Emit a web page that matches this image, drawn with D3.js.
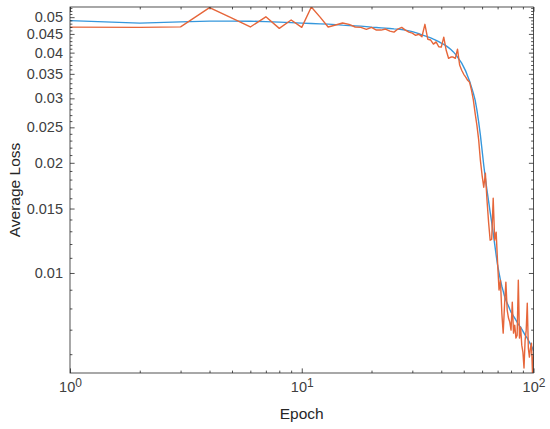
<!DOCTYPE html>
<html>
<head>
<meta charset="utf-8">
<script src="https://cdn.jsdelivr.net/npm/d3@7"></script>
<style>
  body { margin: 0; background: #fff; }
  text { font-family: "Liberation Sans", Arial, Helvetica, sans-serif; }
</style>
</head>
<body>
<div id="chart"></div>
<script>
// epoch index 1..100
var epochs = d3.range(1, 101);

// smooth curve (blue)
var fitLoss = [
  0.04891, 0.04815, 0.04854, 0.04876, 0.04876, 0.04874, 0.04861, 0.04845, 0.04830, 0.04815,
  0.04806, 0.04794, 0.04785, 0.04770, 0.04755, 0.04746, 0.04734, 0.04725, 0.04710, 0.04695,
  0.04686, 0.04675, 0.04666, 0.04657, 0.04645, 0.04637, 0.04628, 0.04607, 0.04585, 0.04564,
  0.04536, 0.04507, 0.04473, 0.04445, 0.04417, 0.04390, 0.04354, 0.04322, 0.04288, 0.04246,
  0.04211, 0.04172, 0.04127, 0.04080, 0.04025, 0.03964, 0.03888, 0.03816, 0.03745, 0.03652,
  0.03560, 0.03450, 0.03343, 0.03219, 0.03100, 0.02966, 0.02785, 0.02583, 0.02380, 0.02165,
  0.01969, 0.01815, 0.01683, 0.01571, 0.01466, 0.01377, 0.01285, 0.01199, 0.01119, 0.01050,
  0.01000, 0.00956, 0.00920, 0.00892, 0.00864, 0.00843, 0.00827, 0.00812, 0.00796, 0.00782,
  0.00772, 0.00762, 0.00753, 0.00743, 0.00734, 0.00725, 0.00717, 0.00711, 0.00702, 0.00694,
  0.00685, 0.00676, 0.00670, 0.00664, 0.00655, 0.00647, 0.00639, 0.00631, 0.00623, 0.00612
];

// noisy loss (orange)
var trainLoss = [
  0.04695, 0.04690, 0.04704, 0.05310, 0.04970, 0.04700, 0.05010, 0.04660, 0.04910, 0.04690,
  0.05330, 0.05000, 0.04700, 0.04760, 0.04820, 0.04780, 0.04700, 0.04690, 0.04630, 0.04690,
  0.04610, 0.04610, 0.04640, 0.04580, 0.04550, 0.04640, 0.04690, 0.04610, 0.04550, 0.04520,
  0.04460, 0.04490, 0.04420, 0.04780, 0.04350, 0.04330, 0.04220, 0.04280, 0.04150, 0.04140,
  0.04410, 0.04060, 0.03860, 0.03890, 0.03890, 0.03860, 0.04090, 0.03700, 0.03580, 0.03490,
  0.03430, 0.03360, 0.03320, 0.03160, 0.02970, 0.02730, 0.02530, 0.02310, 0.02030, 0.01849,
  0.01715, 0.01873, 0.01581, 0.01377, 0.01229, 0.01235, 0.01600, 0.01229, 0.01293, 0.01064,
  0.00898, 0.00956, 0.00777, 0.00685, 0.00817, 0.00944, 0.00791, 0.00753, 0.00734, 0.00698,
  0.00832, 0.00685, 0.00720, 0.00664, 0.00676, 0.00956, 0.00664, 0.00711, 0.00635, 0.00608,
  0.00550, 0.00655, 0.00698, 0.00827, 0.00623, 0.00589, 0.00623, 0.00643, 0.00533, 0.00596
];

var yMajor = [0.01, 0.015, 0.02, 0.025, 0.03, 0.035, 0.04, 0.045, 0.05];
var xMajor = [1, 10, 100];
var xMajorLabels = ["0", "1", "2"];

var margin = {top: 7, right: 16.5, bottom: 56, left: 70};
var width = 550 - margin.left - margin.right;
var height = 429 - margin.top - margin.bottom;
var axisColor = "#262626";
var majorLen = 4.6, minorLen = 2.4;

var svg = d3.select("#chart")
  .append("svg")
  .attr("width", 550)
  .attr("height", 429)
  .append("g")
  .attr("transform", "translate(" + margin.left + "," + margin.top + ")");

var x = d3.scaleLog().domain([1, 100]).range([0, width]);
var y = d3.scaleLog()
  .domain(d3.extent(trainLoss.concat(fitLoss)))
  .range([height, 0]);

// minor ticks (every 0.001 on y, 2..9 per decade on x)
var yMinor = d3.range(6, 54).map(function (k) { return k / 1000; })
  .filter(function (v) {
    return !yMajor.some(function (m) { return Math.abs(m - v) < 1e-9; });
  });
var xMinor = [2, 3, 4, 5, 6, 7, 8, 9, 20, 30, 40, 50, 60, 70, 80, 90];

svg.append("clipPath").attr("id", "clip")
  .append("rect").attr("width", width).attr("height", height);

var line = d3.line()
  .x(function (d) { return x(d[0]); })
  .y(function (d) { return y(d[1]); });

svg.append("path")
  .datum(d3.zip(epochs, fitLoss))
  .attr("clip-path", "url(#clip)")
  .attr("fill", "none")
  .attr("stroke", "#3597dc")
  .attr("stroke-width", 1.4)
  .attr("d", line);

svg.append("path")
  .datum(d3.zip(epochs, trainLoss))
  .attr("clip-path", "url(#clip)")
  .attr("fill", "none")
  .attr("stroke", "#e6663a")
  .attr("stroke-width", 1.4)
  .attr("stroke-linejoin", "round")
  .attr("d", line);

function styleAxis(g) {
  g.select(".domain").remove();
  g.attr("color", axisColor)
    .attr("font-family", '"Liberation Sans", Arial, sans-serif')
    .attr("font-size", 14.5);
  g.selectAll(".tick line").attr("stroke-width", 0.8);
  g.selectAll(".tick text").attr("fill", "#404040");
}

// y axis left, major with labels
svg.append("g")
  .call(d3.axisLeft(y).tickValues(yMajor).tickSize(-majorLen).tickPadding(7)
    .tickFormat(function (d) { return String(d); }))
  .call(styleAxis);
// y minor left/right, major right
svg.append("g")
  .call(d3.axisLeft(y).tickValues(yMinor).tickSize(-minorLen).tickFormat(""))
  .call(styleAxis);
svg.append("g")
  .attr("transform", "translate(" + width + ",0)")
  .call(d3.axisRight(y).tickValues(yMajor).tickSize(-majorLen).tickFormat(""))
  .call(styleAxis);
svg.append("g")
  .attr("transform", "translate(" + width + ",0)")
  .call(d3.axisRight(y).tickValues(yMinor).tickSize(-minorLen).tickFormat(""))
  .call(styleAxis);

// x axis bottom, major with 10^n labels
var xAxisG = svg.append("g")
  .attr("transform", "translate(0," + height + ")")
  .call(d3.axisBottom(x).tickValues(xMajor).tickSize(-majorLen).tickPadding(9)
    .tickFormat(""))
  .call(styleAxis);
xAxisG.selectAll(".tick text").each(function (d, i) {
  var t = d3.select(this);
  t.append("tspan").text("10");
  t.append("tspan").attr("dy", "-0.45em").attr("font-size", 12).text(xMajorLabels[i]);
});
svg.append("g")
  .attr("transform", "translate(0," + height + ")")
  .call(d3.axisBottom(x).tickValues(xMinor).tickSize(-minorLen).tickFormat(""))
  .call(styleAxis);
svg.append("g")
  .call(d3.axisTop(x).tickValues(xMajor).tickSize(-majorLen).tickFormat(""))
  .call(styleAxis);
svg.append("g")
  .call(d3.axisTop(x).tickValues(xMinor).tickSize(-minorLen).tickFormat(""))
  .call(styleAxis);

// box
svg.append("rect")
  .attr("width", width)
  .attr("height", height)
  .attr("fill", "none")
  .attr("stroke", axisColor)
  .attr("stroke-width", 0.8);

// axis labels
svg.append("text")
  .attr("transform", "translate(" + (width / 2) + "," + (height + 46) + ")")
  .attr("text-anchor", "middle")
  .attr("font-size", 15.5)
  .attr("fill", "#262626")
  .text("Epoch");

svg.append("text")
  .attr("transform", "translate(" + (19.5 - margin.left) + "," + (height / 2) + ") rotate(-90)")
  .attr("text-anchor", "middle")
  .attr("font-size", 15.5)
  .attr("fill", "#262626")
  .text("Average Loss");
</script>
</body>
</html>
